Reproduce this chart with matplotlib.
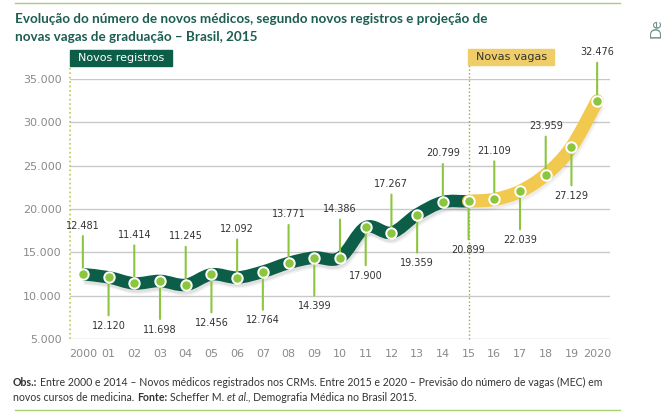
import numpy as np
import matplotlib
matplotlib.use("Agg")
import matplotlib.pyplot as plt
from matplotlib.path import Path
from matplotlib.patches import PathPatch, Rectangle
from matplotlib.transforms import offset_copy

# Data
anos = list(range(2000, 2021))
registros = [12481, 12120, 11414, 11698, 11245, 12456, 12092, 12764, 13771,
             14399, 14386, 17900, 17267, 19359, 20799, 20899]   # 2000-2015
vagas = [20899, 21109, 22039, 23959, 27129, 32476]              # 2015-2020
x_labels = ["2000", "01", "02", "03", "04", "05", "06", "07", "08", "09", "10",
            "11", "12", "13", "14", "15", "16", "17", "18", "19", "2020"]
y_ticks = [5000, 10000, 15000, 20000, 25000, 30000, 35000]

DARK_GREEN = "#0d5e48"
YELLOW = "#f1c94f"
LIGHT_GREEN = "#8cc63f"
TITLE_COLOR = "#1d5d52"
GRID = "#c9c9c9"
TICK = "#8a8a8a"

W, H = 663, 415
fig = plt.figure(figsize=(W / 100, H / 100), dpi=100)
ax = fig.add_axes([70 / W, (H - 339) / H, 540 / W, 260 / H])

valores = registros + vagas[1:]
n_reg = len(registros)


def fmt(v):
    return f"{v:,}".replace(",", ".")


def smooth_path(xs, ys, i0, i1):
    """Catmull-Rom curve between points i0..i1 as a bezier path"""
    pts = np.column_stack([xs, ys]).astype(float)
    n = len(pts)
    verts = [pts[i0]]
    codes = [Path.MOVETO]
    for i in range(i0, i1):
        p0 = pts[i - 1] if i > 0 else pts[i]
        p1, p2 = pts[i], pts[i + 1]
        p3 = pts[i + 2] if i + 2 < n else pts[i + 1]
        verts += [p1 + (p2 - p0) / 6, p2 - (p3 - p1) / 6, p2]
        codes += [Path.CURVE4] * 3
    return Path(verts, codes)


# grid
for t in y_ticks:
    ax.axhline(t, color=GRID, lw=1, zorder=1)

# thick band (with soft shadow)
p_green = smooth_path(anos, valores, 0, n_reg - 1)
p_yellow = smooth_path(anos, valores, n_reg - 1, len(anos) - 1)
for dx, dy, a in [(1, -3, 0.07), (2, -4.5, 0.05)]:
    tr = offset_copy(ax.transData, fig=fig, x=dx, y=dy, units="dots")
    ax.add_patch(PathPatch(p_green, fill=False, lw=9, ec="#000000", alpha=a,
                           transform=tr, capstyle="butt", zorder=2))
    ax.add_patch(PathPatch(p_yellow, fill=False, lw=9, ec="#000000", alpha=a * 0.6,
                           transform=tr, capstyle="butt", zorder=2))
ax.add_patch(PathPatch(p_green, fill=False, lw=9, ec=DARK_GREEN,
                       capstyle="butt", joinstyle="round", zorder=3))
ax.add_patch(PathPatch(p_yellow, fill=False, lw=9.5, ec=YELLOW,
                       capstyle="round", joinstyle="round", zorder=3))

# dotted separators
ax.plot([1999.5, 1999.5], [5000, 36500], ls=":", color="#b3cc55", lw=1.2,
        clip_on=False, zorder=2)
ax.plot([2015, 2015], [5000, 36600], ls=":", color="#8fb03c", lw=1.0,
        clip_on=False, zorder=2)

# labels with leader lines
for i, (x, v) in enumerate(zip(anos, valores)):
    dy = 35 if i % 2 == 0 else -35
    ax.annotate(fmt(v), xy=(x, v), xytext=(0, dy), textcoords="offset points",
                ha="center", va="center", fontsize=7, color="#333333",
                arrowprops=dict(arrowstyle="-", color=LIGHT_GREEN, lw=1.5,
                                shrinkA=2, shrinkB=0),
                zorder=4, annotation_clip=False)

ax.plot(anos, valores, ls="none", marker="o", ms=7.5, mfc=LIGHT_GREEN,
        mec="white", mew=1.4, zorder=5, clip_on=False)

# header boxes
ax.add_patch(Rectangle((1999.5, 36500), 3.97, 1850, color=DARK_GREEN,
                       clip_on=False, zorder=4))
ax.text(1999.5 + 3.97 / 2, 36500 + 925, "Novos registros", color="white",
        fontsize=8, ha="center", va="center", zorder=5)
ax.add_patch(Rectangle((2014.98, 36600), 3.35, 1850, color="#efcd68",
                       clip_on=False, zorder=4))
ax.text(2014.98 + 3.35 / 2, 36600 + 925, "Novas vagas", color="#333333",
        fontsize=8, ha="center", va="center", zorder=5)

# axes styling
ax.set_xlim(1999.5, 2020.5)
ax.set_ylim(5000, 35000)
ax.set_xticks(anos)
ax.set_xticklabels(x_labels)
ax.set_yticks(y_ticks)
ax.set_yticklabels([fmt(t) for t in y_ticks])
ax.tick_params(length=0, labelsize=8, labelcolor=TICK)
ax.tick_params(axis="x", pad=7)
ax.tick_params(axis="y", pad=6)
for s in ax.spines.values():
    s.set_visible(False)

# title and rules
fig.add_artist(plt.Line2D([15 / W, 620 / W], [1 - 3 / H, 1 - 3 / H],
                          color="#a9d06e", lw=1))
fig.add_artist(plt.Line2D([15 / W, 620 / W], [1 - 410 / H, 1 - 410 / H],
                          color="#a9d06e", lw=1))
fig.text(15 / W, 1 - 19 / H,
         "Evolução do número de novos médicos, segundo novos registros e projeção de",
         fontsize=9.7, fontweight="bold", family="Lato", color=TITLE_COLOR,
         va="center")
fig.text(15 / W, 1 - 37 / H, "novas vagas de graduação – Brasil, 2015",
         fontsize=9.7, fontweight="bold", family="Lato", color=TITLE_COLOR,
         va="center")
fig.text(657 / W, 1 - 28 / H, "De", rotation=90, fontsize=11, color="#6f8f8a",
         ha="center", va="center", family="Lato")

# footer with mixed styles
renderer = fig.canvas.get_renderer()


def width_of(s, **kw):
    t = fig.text(0, 0, s, **kw)
    w = t.get_window_extent(renderer).width
    t.remove()
    return w


base = dict(fontsize=7.6, family="Lato", color="#333333", va="center")
space = width_of("x x", **base) - width_of("xx", **base)
linhas = [
    [("Obs.:", "bold", "normal"),
     ("Entre 2000 e 2014 – Novos médicos registrados nos CRMs. Entre 2015 e 2020 – "
      "Previsão do número de vagas (MEC) em", "normal", "normal")],
    [("novos cursos de medicina.", "normal", "normal"),
     ("Fonte:", "bold", "normal"),
     ("Scheffer M.", "normal", "normal"),
     ("et al.", "normal", "italic"),
     (", Demografia Médica no Brasil 2015.", "normal", "normal")],
]
for y, pecas in zip([382, 397], linhas):
    x = 13
    for j, (s, wt, st) in enumerate(pecas):
        if j > 0 and not s.startswith(","):
            x += space
        t = fig.text(x / W, 1 - y / H, s, fontweight=wt, style=st, **base)
        x += t.get_window_extent(renderer).width

fig.savefig("out.png", dpi=100)
